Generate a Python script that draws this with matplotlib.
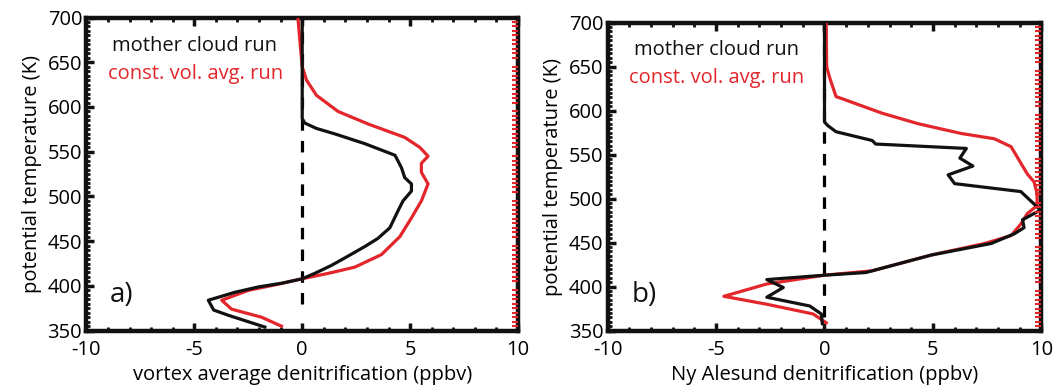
import numpy as np
import matplotlib.pyplot as plt
from matplotlib.ticker import MultipleLocator

plt.rcParams['font.family'] = ['Open Sans', 'DejaVu Sans']
plt.rcParams['axes.unicode_minus'] = False

RED = "#e3262b"

# panel a) vortex average denitrification (ppbv) vs potential temperature (K)
a_mother_x = [0, 0, 0.12, 0.66, 1.5, 2.9, 4.3, 4.6, 4.75, 5.06, 5.06, 4.67, 4.44, 4.06,
              3.5, 2.9, 2.1, 1.36, 0.58, 0, -0.95, -2.0, -3.1, -4.35, -4.1, -3.4, -1.73]
a_mother_y = [700, 587, 582, 576, 570, 559, 546, 532, 521, 514, 506, 495, 484, 465,
              453, 444, 433, 423, 414, 408, 403, 399, 393, 384, 373, 367, 354]
a_const_x = [-0.2, -0.1, 0, 0.2, 0.66, 1.66, 3.05, 4.75, 5.44, 5.83, 5.52, 5.52, 5.83,
             5.52, 5.06, 4.52, 3.67, 2.44, 1.2, 0, -1.1, -2.5, -3.73, -3.27, -1.88, -0.96]
a_const_y = [700, 672, 645, 630, 613, 595, 581, 566, 555, 545, 537, 527, 514,
             495, 476, 455, 435, 421, 414, 408, 402, 395, 384, 374, 365, 355]

# panel b) Ny Alesund denitrification (ppbv)
b_mother_x = [0, 0, 0.15, 0.53, 2.2, 2.36, 6.54, 6.24, 6.84, 5.7, 6.0, 9.05, 9.96, 9.13,
              9.2, 8.75, 7.68, 4.94, 1.9, 0, -2.66, -1.9, -2.66, -0.68, -0.15, -0.1]
b_mother_y = [700, 587, 583, 576, 566, 562, 557, 546, 537, 527, 517, 508, 487, 476,
              467, 460, 449, 436, 416, 413, 408, 399, 388, 378, 369, 358]
b_const_x = [0.08, 0.1, 0.23, 0.53, 2.66, 4.33, 6.3, 7.83, 8.6, 9.35, 9.66, 9.8, 9.8,
             9.35, 9.05, 8.6, 7.38, 4.94, 2.2, 0, -2.66, -4.64, -2.66, -0.53, 0.08]
b_const_y = [700, 650, 638, 616, 597, 585, 574, 568, 559, 528, 519, 506, 492,
             483, 471, 458, 449, 436, 418, 413, 403, 389, 380, 369, 359]

xticks = [-10, -5, 0, 5, 10]
yticks = [350, 400, 450, 500, 550, 600, 650, 700]

panels = [
    dict(pos=[0.082, 0.150, 0.410, 0.805], mother=(a_mother_x, a_mother_y),
         const=(a_const_x, a_const_y), zero=(380, 700), tag="a)",
         xlabel="vortex average denitrification (ppbv)"),
    dict(pos=[0.577, 0.150, 0.412, 0.792], mother=(b_mother_x, b_mother_y),
         const=(b_const_x, b_const_y), zero=(366, 700), tag="b)",
         xlabel="Ny Alesund denitrification (ppbv)"),
]

fig = plt.figure(figsize=(10.53, 3.89), dpi=100)

for p in panels:
    ax = fig.add_axes(p["pos"])
    ax.plot([0, 0], p["zero"], color="black", lw=2.3, dashes=(3.6, 3.2))
    ax.plot(*p["const"], color=RED, lw=2.3, zorder=3)
    ax.plot(*p["mother"], color="#111111", lw=2.3, zorder=4)

    ax.set_xlim(-10, 10)
    ax.set_ylim(350, 700)
    ax.set_xticks(xticks)
    ax.set_yticks(yticks)
    ax.xaxis.set_minor_locator(MultipleLocator(1))
    ax.yaxis.set_minor_locator(MultipleLocator(5))
    ax.tick_params(which="both", direction="in", top=True, right=True,
                   labelsize=14.5, color="#111111")
    ax.tick_params(axis="x", pad=7)
    ax.tick_params(axis="y", pad=3)
    ax.tick_params(which="major", length=6, width=2.5)
    ax.tick_params(which="minor", length=3, width=2.0)
    for s in ax.spines.values():
        s.set_linewidth(3.2)
        s.set_color("#111111")

    # faint red minor ticks along the right edge, as in the original figure
    tw = ax.twinx()
    tw.set_ylim(350, 700)
    tw.yaxis.set_major_locator(MultipleLocator(50))
    tw.yaxis.set_minor_locator(MultipleLocator(5))
    tw.tick_params(which="both", direction="in", labelright=False, color=RED)
    tw.tick_params(which="major", length=0)
    tw.tick_params(which="minor", length=4, width=1.5)
    for s in tw.spines.values():
        s.set_visible(False)

    ax.set_ylabel("potential temperature (K)", fontsize=14.5, labelpad=4)
    ax.set_xlabel(p["xlabel"], fontsize=14.5, labelpad=3)

    ax.text(0.06, 0.91, "mother cloud run", transform=ax.transAxes,
            fontsize=14.5, color="#111111", va="center")
    ax.text(0.05, 0.82, "const. vol. avg. run", transform=ax.transAxes,
            fontsize=14.5, color=RED, va="center")
    ax.text(0.055, 0.115, p["tag"], transform=ax.transAxes,
            fontsize=20, color="#111111", va="center")

fig.savefig("out.png", dpi=100)
